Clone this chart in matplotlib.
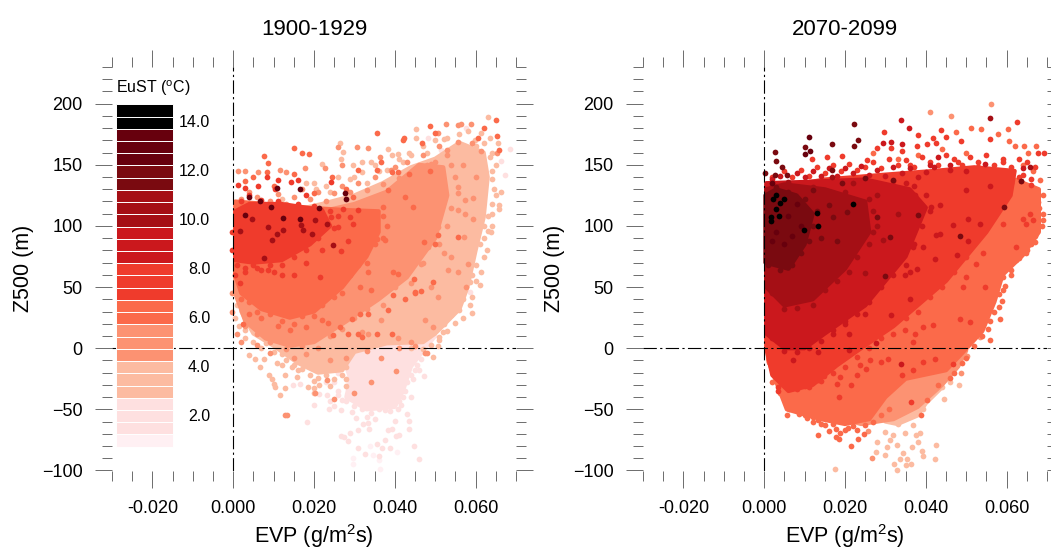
import numpy as np
import matplotlib
matplotlib.use("Agg")
import matplotlib.pyplot as plt
from matplotlib.ticker import MultipleLocator

plt.rcParams['font.family'] = ['Liberation Sans', 'DejaVu Sans']
plt.rcParams['mathtext.fontset'] = 'custom'
plt.rcParams['mathtext.rm'] = 'Liberation Sans'
plt.rcParams['mathtext.it'] = 'Liberation Sans'

# EVP is typed in units of 1e-3 g/m2s, Z500 in m
EVP_UNIT = 1e-3

TITLES = ["1900-1929", "2070-2099"]

# colour classes, coldest first
PINK = "#fee0e0"
PALE = "#fff0f3"
SALMON = "#fcbba1"
ORANGE = "#fc9272"
CORAL = "#fb6a4a"
RED = "#ef3b2c"
CRIMSON = "#cb181d"
BRICK = "#a50f15"
WINE = "#7a0a10"
MAROON = "#67000d"
BLACK = "#000000"

# legend boxes, top to bottom
LEGEND_COLORS = [BLACK] * 2 + [MAROON] * 3 + [WINE] * 2 + [BRICK] * 3 + [CRIMSON] * 3 + [RED] * 3 + \
                [CORAL] * 2 + [ORANGE] * 3 + [SALMON] * 3 + [PINK] * 3 + [PALE]
LEGEND_LABELS = ["14.0", "12.0", "10.0", "8.0", "6.0", "4.0", "2.0"]

# ---- 1900-1929: outlines of the dense cores, then the points that can be told apart
L_PINK_CORE = [(27, -5), (29, -25), (28, -40), (33, -50), (40, -48), (42, -35), (44, -15), (47, -2), (50, 10), (44, 15), (35, 10)]
L_SALMON_CORE = [(2, 30), (5, 12), (10, 2), (16, -12), (21, -20), (27, -18), (30, -3), (38, 4), (47, 5), (50, 12), (56, 32),
                 (58, 50), (60, 80), (62, 107), (63, 140), (62, 160), (56, 168), (50, 155), (44, 148), (37, 135), (30, 125),
                 (22, 118), (14, 112), (8, 115), (1, 118)]
L_ORANGE_CORE = [(0.5, 45), (3, 22), (8, 8), (14, 2), (20, 5), (28, 22), (36, 40), (43, 58), (50, 90), (53, 125), (52, 148),
                 (46, 150), (38, 128), (30, 118), (22, 112), (14, 108), (5, 110), (0.5, 110)]
L_CORAL_CORE = [(0.5, 60), (2, 45), (7, 32), (14, 25), (20, 30), (27, 50), (33, 75), (36, 95), (36, 112), (28, 113), (18, 115),
                (8, 118), (0.5, 120)]
L_RED_CORE = [(0.5, 72), (5, 70), (12, 72), (19, 85), (24, 100), (22, 113), (12, 118), (4, 118), (0.5, 112)]

L_PALE = [(29.7, -89.7), (29.7, -94.7), (36.3, -98.5), (36.1, -91.7), (40.5, -85), (33.9, -79.7), (34.7, -87.3)]
L_PINK = [(26.8, -71.7), (27.5, -72.6), (28.9, -69), (28.5, -75.8), (30.8, -81.3), (32.6, -86.7), (35.5, -78), (36.9, -81.3),
          (38.8, -81.3), (44.8, -80.2), (46.1, -90.8), (36.1, -88), (43.5, -65.7), (43.5, -59.5), (43, -53.5), (41.6, -46.6),
          (42.5, -35), (47.3, -22.6), (46.6, -9), (45.6, -14), (40, -59.5), (40.4, -72), (41, -70.6), (39.2, -65.7),
          (38.4, -67), (37.5, -74.7), (33.6, -65.7), (32.2, -62), (31, -66.6), (33.4, -61), (35, -57.6), (33, -56),
          (30.5, -56.7), (29.3, -52), (26.8, -50.7), (23.8, -49.4), (24, -43.4), (23.1, -37.9), (40.8, -50), (38.8, -51.3),
          (37.5, -50.7), (18.2, -60), (20, -46.6), (21.2, -37.6), (14.9, -30.3), (16.5, -29.5), (48.2, 172), (66.2, 153),
          (67.2, 141.6), (68.4, 162.8), (57.7, 179.8), (56, 61), (58.5, 46), (51.5, 162), (53.2, 160.7), (25, -47), (27, -42),
          (44.5, -25), (44, -40), (45, -18), (26, -35), (23, -28), (44, -22), (46, -18), (45, -8), (47, -3), (43, -28), (42, -40),
          (41, -43), (38, -45), (36, -50), (34, -53), (32, -50), (30, -47), (28, -43), (26, -38), (25, -28), (26, -20)]
L_SALMON = [(3.9, -5.7), (5.4, -8.5), (6.7, -15.3), (8.9, -21.5), (9.5, -25.4), (10.1, -29.2), (10.4, -32), (12.7, -32.5),
            (11.6, -38.5), (18.4, -31.6), (20, -32.5), (12.7, -21.5), (15.9, -23.5), (14.5, -15), (10.8, -12), (7.7, -8.5),
            (59, 29), (58.6, 35), (56, 31.6), (55, 21), (52.3, 20), (52, 13.4), (51, 6.5), (50.7, 1.6), (49.5, -7),
            (63, 189), (45.3, 179), (45.3, 171.6), (52.3, 171), (55.6, 168), (59.8, 170), (61.4, 175.7), (63.5, 171.6),
            (65.5, 167.5), (63.5, 156.6), (66.3, 128), (65.7, 117), (65.7, 113.5), (63, 96), (63.9, 95), (62.9, 80.7),
            (61.4, 62), (61, 52), (58.5, 54), (21.9, 150.3), (26.6, 154.4), (27.2, 160.7), (29.7, 149.5), (38.4, 162.8),
            (43.5, 160), (40.9, 159), (39.2, 158), (31.8, 152.5), (34, 152), (26.4, 167.5), (18, 135), (20.5, 130),
            (24, 128), (12, 122), (30, 140), (33, 135), (36, 145), (42, 152), (48, 160), (64, 145), (64.5, 130), (64, 110),
            (62, 100), (20, -37), (21.2, -30), (24, -31), (28, -25), (27.8, -31),
            (20, 135), (23, 133), (26, 140), (29, 138), (32, 144), (35, 150), (38, 146), (41, 155), (44, 158), (47, 165),
            (50, 170), (53, 172), (56, 175), (58, 178), (60, 165), (62, 168), (64, 160), (65, 150), (64, 138), (65, 125),
            (64, 118), (63, 108), (64, 100), (62, 90), (61, 85), (62, 75), (60, 68), (59, 60), (60, 55), (59, 42), (57, 40),
            (57, 25), (54, 27), (53, 14), (51, 9), (49, 3), (47, -1), (44, 0), (1, 35), (0.5, 25), (1.5, 18), (3, 8), (3, 15),
            (5, 5), (7, 0), (8, 4), (10, -3), (12, -5), (13, -10), (15, -14), (17, -17), (19, -22), (21, -24), (23, -22),
            (25, -25), (27, -22), (28, -15), (20, -27), (16, -18), (12, -14)]
L_ORANGE = [(12.8, -54.8), (13.4, -55), (20.2, -37), (23.1, -26), (48, -3.8), (47.4, -3.5), (34.2, -28), (30, -37), (40.2, -18.8),
            (36.7, -8), (25, -41.2), (26, 164.8), (30.6, 164.8), (33.4, 164), (27, 150), (36.3, 156.6), (40, 148),
            (51.5, 115.7), (55.6, 132), (55.6, 126.6), (57.3, 121), (59.3, 122.5), (55.6, 113), (57.3, 110), (59.3, 106),
            (50.7, 99), (52.3, 77.5), (53.2, 64), (54, 74.7), (57.1, 90.6), (55.6, 62.5), (57.7, 50), (58, 69), (48.2, 83),
            (46.6, 69), (49, 50), (50.7, 42), (47, 95), (50.7, 175.7), (52.8, 162), (55.6, 168.8), (59, 167.5), (61.4, 161.5),
            (47.4, 23), (49.5, 17.5), (44, 5), (40.8, 8), (36.7, 23), (33.4, 12), (31.8, 13.4), (52.7, 183), (55.6, 182.5),
            (58.9, 183), (56.3, 183), (65.3, 160), (60, 140), (57, 150), (1.3, 145), (2.8, 144.6), (6.1, 143.8), (13, 144),
            (17.8, 147), (22.7, 147), (11.6, 145.7), (-0.3, 30), (-0.2, 45), (1, 12), (2, 5), (6, 3), (9, -4), (15, -8),
            (18, -5), (24, -10), (28, -8), (33, -2), (41, 0), (45, 2),
            (2, 122), (4, 128), (6, 124), (9, 120), (11, 126), (13, 118), (15, 124), (17, 130), (19, 122), (21, 128), (23, 120),
            (25, 127), (27, 133), (29, 128), (31, 135), (33, 129), (35, 140), (37, 134), (39, 146), (41, 139), (43, 152),
            (45, 145), (47, 158), (49, 151), (51, 165), (53, 158), (3, 18), (6, 12), (9, 5), (13, -1), (17, 2), (21, 0), (24, 10),
            (27, 16), (30, 25), (33, 32), (37, 35), (40, 50), (44, 53), (47, 70), (51, 85), (53, 100), (54, 115), (55, 140),
            (54, 150), (50, 152), (48, 150), (45, 120), (42, 80), (38, 60), (34, 50), (30, 40)]
L_CORAL = [(38.4, 31), (31.4, 28), (33.4, 28), (28.3, 11.5), (30.8, 12), (31.9, 9.3), (35.5, 12), (39.2, 12), (24.6, 10.6),
           (42.5, 40.6), (45, 45.3), (39.6, 43.4), (29.3, 23.5), (26.4, 17.5), (23.5, 20.7), (22, 23), (26.4, 65), (25, 54),
           (25.2, 74.7), (29.7, 91), (33.4, 108.8), (35.5, 146), (36.7, 152), (39.2, 144), (40.8, 144), (43.5, 142.4),
           (48.8, 145), (50.7, 92.5), (49.9, 85.6), (47.2, 87), (44.8, 56.5), (46.6, 47), (45, 46), (49.5, 54), (55.6, 91),
           (42.5, 124), (44.5, 115.6), (37.1, 115.6), (38.4, 129), (29.7, 124), (31, 145.7), (39.6, 62.5), (40.8, 61),
           (33.4, 62.5), (35.5, 89.7), (37.5, 88.4), (31.4, 50), (34.2, 47.5), (48.6, 182), (46.7, 167.5), (50, 176),
           (60.5, 172), (62, 180), (65.1, 186.6), (65.3, 173.8), (65.7, 162), (35.5, 175.7), (42.3, 172), (42, 170),
           (15.1, 163.7), (17.1, 159.8), (18.8, 158.5), (7.5, 157), (8.7, 151.7), (8.3, 144.3), (15, 142.4), (24.4, 140),
           (5, 140), (3, 137), (10, 133), (20, 127), (28, 130), (7, 25), (4, 28), (11, 18), (14, 15), (18, 17), (12, 30), (2.5, 20),
           (2, 40), (4, 38), (6, 30), (9, 28), (12, 22), (15, 20), (17, 26), (20, 26), (22, 35), (25, 42), (27, 45), (29, 60),
           (31, 68), (33, 70), (35, 85), (37, 90), (38, 100), (37, 108), (5, 45), (10, 40), (15, 35), (20, 45), (25, 60), (30, 85),
           (34, 100), (4, 90), (8, 85), (12, 95), (16, 90), (20, 105), (6, 105), (14, 112), (2, 100)]
L_RED = [(24.2, 107.5), (26, 99.3), (29.7, 102), (29, 107.5), (30.8, 113), (27.2, 113.7), (28.3, 87.8), (26.8, 79.7), (21.5, 58),
         (12, 59.7), (7, 63.8), (8.7, 63.8), (1.7, 53.5), (0.5, 59.7), (14.9, 108.8), (16, 137.5), (14.3, 135.6), (11.2, 137.5),
         (6.1, 132.8), (1.3, 133.4), (3, 130.7), (8.3, 139.7), (10.4, 130), (18, 125), (4, 125), (24.2, 135.6), (13, 80),
         (18, 70), (5, 68), (10, 62), (22, 80), (3, 62), (-0.3, 80), (-0.3, 95), (15, 60),
         (1, 68), (3, 66), (6, 66), (9, 68), (12, 68), (15, 75), (18, 80), (21, 90), (25, 98), (26, 108), (24, 112), (20, 116),
         (16, 118), (11, 120), (7, 121), (2, 120)]
L_BRICK = [(17.4, 96.6), (8.6, 99.3), (10.8, 93.8), (12.4, 97), (20.2, 104.7), (23.1, 102), (19.4, 93.8), (9.5, 88.4), (24.8, 84.8),
           (7.5, 74.2), (4.6, 106), (16.8, 101), (1.7, 95.7)]
L_MAROON = [(10.8, 130.7), (16.6, 130), (3.8, 123.8), (6.7, 120.6), (9.4, 115.4), (2.8, 108.8), (12.3, 106.7), (21.2, 114.8),
            (16.5, 105.3), (27.7, 127), (28, 122)]

# ---- 2070-2099
R_SALMON_CORE = [(29, -45), (33, -42), (39, -30), (42, -25), (44, -32), (40, -45), (38, -55), (33, -62), (30, -60)]
R_ORANGE_CORE = [(16, -55), (24, -62), (32, -58), (38, -48), (44, -30), (48, -15), (50, -2), (46, -5), (40, 0), (30, -12), (22, -30)]
R_CORAL_CORE = [(0.5, 10), (1, -10), (3.5, -32), (5.6, -50), (14, -58), (20, -62), (26, -58), (30, -40), (35, -25), (45, -18),
                (49, -4), (54, 14), (57, 38), (59, 60), (64, 76), (68, 95), (68, 130), (62, 138), (55, 140), (45, 130), (38, 80)]
R_RED_CORE = [(0.5, 0), (2, -22), (6, -35), (12, -30), (18, -14), (24, 0), (32, 18), (45, 55), (55, 95), (61, 125), (62, 145),
              (52, 148), (42, 145), (30, 142), (15, 138), (0.5, 130)]
R_CRIMSON_CORE = [(0.5, 12), (5, 0), (10, 0), (15, 12), (25, 35), (35, 75), (40, 115), (36, 130), (25, 138), (10, 136), (0.5, 135)]
R_BRICK_CORE = [(0.5, 50), (5, 35), (12, 40), (20, 65), (26, 95), (25, 120), (15, 130), (5, 134), (0.5, 130)]
R_WINE_CORE = [(0.3, 70), (6, 65), (10, 85), (12, 110), (8, 125), (3, 130), (0.3, 125)]

R_SALMON = [(17.5, -98.7), (28, -76.6), (30.3, -80.7), (31.1, -75), (32.8, -79.4), (29.9, -68.5), (33.2, -61.6), (34.8, -69.3),
            (31.9, -71), (27.8, -54.8), (26.6, -54.8), (32.2, -95), (32.9, -99.3), (33.6, -90.8), (35.2, -95.7), (36.3, -95),
            (35.4, -90.8), (39.2, -88.4), (39, -84.3), (36.7, -80.7), (34.3, -85.7), (42.2, -90.6), (42.5, -78.8), (38.5, -69),
            (37.5, -70.6), (38.1, -76.6), (36.9, -62.5), (44.5, -41.7), (44, -32), (46, -27.5), (48.2, -29.7), (29.9, -87),
            (27.7, -85), (39.3, -50)]
R_ORANGE = [(56.1, 199.4), (41, 193.4), (46.3, 190), (39, -7), (41, -12.5), (42.6, -20.7), (39.8, -26), (42.2, -27.5), (44, -20.7),
            (29, -31.6), (32.8, -31.6), (31.1, -38.5), (25.4, -45), (27, -46.6), (21.2, -45), (19.6, -49.4), (49.2, 12),
            (52.5, 20), (53.3, 9.3), (47.6, 6.5), (46, 1), (14.2, -46.6), (12.2, -45.3), (10.5, -48), (26.6, -90), (24, -60),
            (25.8, -67.6), (48.6, -20.5), (50.2, -6.5), (20, -55), (25, -50), (30, -40), (33, -30), (37, -28), (40, -18), (45, -12),
            (48, -8), (35, -38), (23, -40), (28, -25)]
R_CORAL = [(1.2, -11.2), (2.5, -20.7), (4, -24), (4.5, -29.5), (5.6, -54.3), (6.2, -50), (6.8, -42.6), (8.7, -53.5), (9.9, -52),
           (10.7, -56.7), (7.9, -45.3), (13.4, -70.6), (13.3, -59), (14, -61.6), (15.3, -57), (17.8, -65.7), (17.8, -72.6),
           (18.4, -74.5), (18.8, -69.3), (20.8, -65.2), (21.5, -80), (23, -67), (23.1, -74.5), (24.7, -70.4), (38.8, -54.8),
           (40.2, -42), (56, 6.5), (55.4, 16), (58.3, 24), (58.9, 39), (58, 34), (61.2, 59.7), (59, 58.4), (57.6, 53.5),
           (59.7, 50.7), (60.3, 69.3), (62.4, 72), (64.7, 77.5), (67, 87), (68.8, 100), (67.7, 119.7), (69, 125), (68.3, 137.5),
           (67.3, 165.6), (60.3, 179), (53.7, 179.2), (51.3, 179.8), (47.4, 177), (57.9, 174.8), (62, 165.6), (64.4, 165.3),
           (60.6, 169.4), (65.3, 159.3), (66.5, 145), (64, 150), (50, 160), (44, 163), (38, 158), (27, 160), (33, 155),
           (69, 110), (68, 115), (69, 105), (67, 92), (66, 85), (65, 80), (63, 74), (61, 64), (59, 48), (58, 44), (57, 30), (56, 22),
           (54, 10), (52, 2), (50, -8), (49, -12), (47, -20), (46, -24), (43, -30), (3, -22), (2, -15), (2, -28), (5, -40), (4, -37),
           (7, -48), (10, -55), (12, -56), (15, -63), (17, -62), (20, -67), (22, -64), (25, -63), (27, -60), (29, -55), (31, -50),
           (16, -68), (12, -60), (18, -50), (22, -48), (27, -38), (31, -25), (36, -15), (42, -8),
           (30, 30), (40, 60), (50, 100), (55, 125), (45, 90), (35, 45), (25, 15), (15, -10), (10, -20), (58, 135), (48, 120), (38, 105)]
R_RED = [(3.3, -32), (3.5, -35), (36.4, -44), (59, 102), (62.4, 83), (64, 106), (65.7, 110), (66.5, 104.7), (64.9, 102), (54.2, 77.5),
         (52.5, 69), (54.6, 50), (50, 58.4), (49.2, 50), (50.9, 21.5), (48.4, 23.5), (41.8, 18.8), (39.3, 17.5), (37.3, 12),
         (36.9, 5), (34.8, 14.7), (30.7, -8.5), (29, -11), (26.2, -9.3), (25.2, -16.6), (23.7, -14), (18.8, -23.5), (14.8, -23),
         (13.4, -25.6), (10, -31), (7.2, -25), (6.4, -29), (5.6, -23.5), (18.4, -39.8), (21.6, -30), (18, -29.5), (23, -21.6),
         (34, -22), (36.9, -18), (39.3, -11), (42.2, -8.5), (46.7, -12.5), (62.6, 185), (29.7, 177), (43.8, 178.4), (38.1, 174.3),
         (41.8, 172), (45.1, 173), (48.8, 169.7), (56, 171), (69.2, 160), (67.7, 160), (66, 133.4), (63.5, 137), (27.8, 164),
         (37.9, 165.6), (40.2, 166.7), (42.5, 167.5), (31.5, 164), (34.2, 161.5), (25.4, 153.8), (19.3, 157), (15.6, 156.6),
         (11.9, 155), (53, 148), (59, 152), (1.5, -3), (36, 150), (48, 152),
         (2, 140), (5, 145), (7, 140), (9, 146), (11, 141), (13, 148), (15, 143), (17, 150), (19, 145), (21, 151), (23, 146), (25, 148),
         (27, 152), (29, 147), (31, 155), (33, 150), (35, 154), (37, 148), (39, 156), (41, 152), (43, 150), (45, 158), (47, 155),
         (49, 150), (51, 156), (53, 152), (55, 158), (57, 150), (59, 155), (61, 148), (63, 155), (65, 152), (67, 148), (64, 142), (66, 138),
         (8, -33), (11, -32), (14, -27), (17, -20), (20, -15), (23, -7), (26, 0), (29, 8), (32, 12), (35, 25), (38, 30), (41, 42), (44, 50),
         (47, 62), (50, 75), (53, 90), (56, 105), (59, 118), (61, 135), (63, 140), (10, 25), (20, 45), (30, 80), (35, 110), (25, 55)]
R_CRIMSON = [(27.7, 4.4), (7.2, -9.8), (5.6, 23), (9.7, 24), (13, 12), (17, 12), (21, 12), (13.4, -3), (20.9, -1.6), (36.2, 40.6),
             (31.5, 27), (33.8, -12.5), (4, 35), (2.3, 24), (4.8, 9.3), (8, 6.5), (10.5, 17.5), (16, 21.5), (20, 20), (25, 28),
             (43.5, 93.8), (42.6, 92.5), (50.5, 87.6), (47.6, 76), (42.2, 73), (36.9, 83), (39.3, 83), (37.7, 65), (36, 62.5),
             (34.8, 59.7), (41.4, 115.7), (43.5, 117), (37.3, 125), (50, 129), (53.3, 102), (50.5, 106), (46.7, 100.7),
             (54.6, 151), (55.8, 133), (45.9, 145.7), (41, 150), (43, 156.6), (35.2, 134.8), (64, 147), (33.8, 187), (35.9, 179.8),
             (29.5, 167.8), (31.4, 168.8), (34, 166.7),
             (2, 138), (4, 141), (8, 143), (10, 140), (12, 145), (14, 141), (16, 147), (18, 141), (20, 147), (22, 143), (24, 149), (26, 142),
             (28, 146), (30, 141), (32, 148), (34, 143), (36, 147), (38, 140), (40, 144), (42, 148), (46, 150), (50, 145),
             (2, 8), (5, -2), (8, -3), (11, 0), (14, 6), (17, 15), (20, 22), (23, 28), (26, 38), (29, 50), (32, 60), (35, 68), (37, 85),
             (39, 100), (41, 112), (40, 125), (37, 133), (32, 137), (5, 50), (12, 60), (18, 85), (22, 110), (15, 100)]
R_BRICK = [(16.3, 62.5), (25, 61.6), (8.9, 62.5), (11.4, 73.4), (7.2, 68), (1.5, 73.4), (4, 77.5), (18.8, 81.6), (21.2, 99.3),
           (23.7, 91), (29.5, 88.4), (27, 95), (20, 102), (56, 188), (65.7, 148.4), (16.9, 140), (22, 135), (28, 125), (33, 110),
           (2, 45), (5, 32), (8, 33), (12, 35), (15, 48), (18, 55), (21, 62), (23, 75), (26, 85), (28, 100), (27, 112), (26, 122),
           (20, 128), (12, 132), (6, 136), (2, 133)]
R_WINE = [(22.2, 183.3), (22.2, 165), (23.1, 170), (16.9, 167), (10, 164.5), (2.6, 160.7), (3, 152.8), (4.4, 148.4), (2.7, 142),
          (5.6, 142), (0.2, 143), (12.2, 129), (19.2, 134.8), (32, 137.5), (24.9, 139.6), (16.7, 145.7), (38, 108.8), (31.1, 91),
          (48.4, 92), (59.3, 115.6), (63.6, 137), (30, 59), (17, 107.5), (27.8, 107.5), (20.4, 111.6), (16.1, 117), (14, 90), (18, 88),
          (1, 68), (4, 64), (7, 68), (9, 78), (11, 88), (12, 100), (13, 112), (10, 122), (6, 128), (3, 132)]
R_MAROON = [(11.2, 172.7), (10.1, 159), (11.4, 161), (2, 135), (8, 118), (6, 108), (9, 100), (3, 95), (5, 85), (2, 88), (7, 92)]
R_BLACK = [(2.1, 121.7), (3, 125), (4.8, 121.7), (4, 119), (2.8, 113.7), (3.7, 108.3), (1.6, 107.5), (1.6, 104), (9.9, 97),
           (13.4, 99.8), (13.1, 110.5), (22, 117.6)]

LEFT_LAYERS = [(PALE, None, L_PALE), (PINK, L_PINK_CORE, L_PINK), (SALMON, L_SALMON_CORE, L_SALMON),
               (ORANGE, L_ORANGE_CORE, L_ORANGE), (CORAL, L_CORAL_CORE, L_CORAL), (RED, L_RED_CORE, L_RED),
               (BRICK, None, L_BRICK), (MAROON, None, L_MAROON)]
RIGHT_LAYERS = [(SALMON, R_SALMON_CORE, R_SALMON), (ORANGE, R_ORANGE_CORE, R_ORANGE), (CORAL, R_CORAL_CORE, R_CORAL),
                (RED, R_RED_CORE, R_RED), (CRIMSON, R_CRIMSON_CORE, R_CRIMSON), (BRICK, R_BRICK_CORE, R_BRICK),
                (WINE, R_WINE_CORE, R_WINE), (MAROON, None, R_MAROON), (BLACK, None, R_BLACK)]


def draw_panel(ax, title, layers):
    for color, core, points in layers:
        if core is not None:
            xs, ys = zip(*core)
            ax.fill(np.array(xs) * EVP_UNIT, ys, color=color, lw=3, joinstyle='round', zorder=2)
        xs, ys = zip(*points)
        ax.scatter(np.array(xs) * EVP_UNIT, ys, s=17, color=color, linewidths=0, zorder=2, clip_on=False)

    dash = (0, (12, 3, 2, 3))
    ax.axhline(0, color='black', lw=0.8, linestyle=dash, zorder=3)
    ax.axvline(0, color='black', lw=0.8, linestyle=dash, zorder=3)

    ax.set_xlim(-0.03, 0.07)
    ax.set_ylim(-100, 230)
    for side in ax.spines:
        ax.spines[side].set_visible(False)
    ax.xaxis.set_major_locator(MultipleLocator(0.02))
    ax.xaxis.set_minor_locator(MultipleLocator(0.005))
    ax.xaxis.set_major_formatter(lambda v, p: "%.3f" % v)
    ax.set_yticks(np.arange(-100, 201, 50))
    ax.yaxis.set_minor_locator(MultipleLocator(10))
    ax.tick_params(which='major', direction='out', length=12, width=0.6, color='#555555', pad=9, labelsize=13,
                   top=True, right=True)
    ax.tick_params(which='minor', direction='out', length=7, width=0.6, color='#555555', top=True, right=True)
    ax.set_xlabel(r"EVP (g/m$^2$s)", fontsize=15.5, labelpad=4)
    ax.set_ylabel("Z500 (m)", fontsize=15.5, labelpad=6)
    ax.set_title(title, fontsize=16, pad=23)


def draw_legend(ax):
    box_y = 194.5 - 10 * np.arange(len(LEGEND_COLORS))
    ax.barh(box_y, 0.0141, left=-0.0289, height=10, color=LEGEND_COLORS, edgecolor='white', linewidth=0.7, zorder=4)
    for k, label in enumerate(LEGEND_LABELS):
        ax.text(-0.0057, box_y[1 + 4 * k], label, ha='right', va='center', fontsize=11.5, zorder=5)
    ax.text(-0.0289, 212.5, r"EuST ($^{\mathrm{o}}$C)", ha='left', va='center', fontsize=11.5, zorder=5)


fig = plt.figure(figsize=(10.51, 5.52), dpi=100)
ax1 = fig.add_axes([112 / 1051, 1 - 470.5 / 552, 404 / 1051, 403.5 / 552])
ax2 = fig.add_axes([643 / 1051, 1 - 470.5 / 552, 404 / 1051, 403.5 / 552])
draw_panel(ax1, TITLES[0], LEFT_LAYERS)
draw_panel(ax2, TITLES[1], RIGHT_LAYERS)
draw_legend(ax1)
fig.savefig("out.png", dpi=100)
